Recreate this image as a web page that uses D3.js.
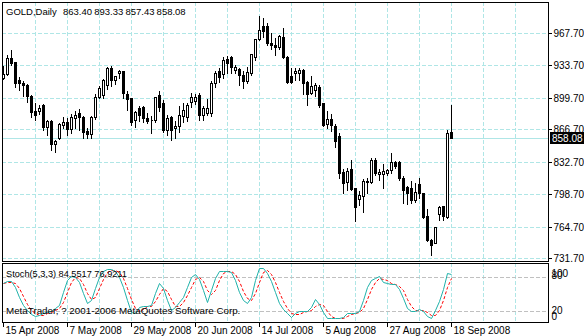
<!DOCTYPE html>
<html>
<head>
<meta charset="utf-8">
<script src="https://cdn.jsdelivr.net/npm/d3@7"></script>
<style>
  body { margin: 0; background: #fff; }
  svg { display: block; font-family: "Liberation Sans", Arial, sans-serif; }
</style>
</head>
<body>
<svg id="chart" width="584" height="336"></svg>
<script>
var symbol = "GOLD,Daily";
var firstDay = "2008-04-15";

// daily OHLC, one entry per bar (15 Apr 2008 .. 18 Sep 2008)
var opens = [921, 925, 942, 937, 918, 915, 913, 902, 886, 886, 892, 869, 875, 851, 858, 871, 874, 867, 879, 884,
  880, 865, 862, 880, 901, 903, 913, 931, 918, 926, 928, 904, 899.6, 876.5, 889, 890, 878.5, 876.5, 876.5, 902.7,
  894, 866, 879.6, 868, 870, 880.6, 880, 895, 896, 902.7, 881.7, 883.5, 884, 915.3, 927.8, 924.7, 940.4, 942.5, 928.9, 930,
  923.6, 917.4, 925.7, 942.5, 961.4, 975, 975, 957.2, 955, 953, 963.5, 942.5, 922.6, 925.7, 925.7, 928.9, 916.3, 904.8, 907.9, 911,
  894.3, 872.2, 877.5, 870, 859.7, 821.9, 811.4, 825, 805, 793.6, 796.5, 811.4, 811.4, 834.5, 819.8, 819.8, 821.2, 824, 832.7, 832.7,
  815.3, 805.9, 804.8, 792.5, 809.3, 800.2, 775.7, 750.6, 747.7, 777.8, 786.2, 775, 863.40];
var highs = [934, 946, 951, 938, 923, 918, 915, 904, 895, 893, 894, 878, 877, 857, 874, 881, 880, 884, 887, 889,
  882, 869, 882, 905, 913, 921, 933, 934, 924, 930, 929, 908, 900, 887, 892, 892, 885, 882, 902, 908,
  898, 883, 882, 876.5, 892, 895, 895, 906, 905, 905.8, 892, 899.2, 918, 928.9, 932, 943.6, 944.6, 945, 935, 932,
  929, 933, 946.8, 962.5, 986.6, 984.5, 979.2, 968.7, 963.5, 967, 974, 944.6, 932, 932, 932, 931, 918.4, 923.6, 916, 914,
  895, 887, 883.8, 873.3, 863.9, 826, 827.2, 835.5, 806.2, 803, 815.6, 817, 838, 837.6, 825.8, 831, 826, 843.2, 834.5, 834.5,
  818.8, 808.3, 813.5, 811.7, 817, 801.2, 783.8, 752.4, 765.3, 787.3, 787.3, 866.7, 893.33];
var lows = [919, 924, 934, 911, 908, 902, 895, 880, 876, 883, 866, 861, 845, 843, 857, 868, 861, 863, 868, 866,
  858, 858, 858, 878, 899, 900, 909, 912, 914, 921, 900, 887, 871, 869, 875, 874, 873, 863, 874, 886,
  864, 861, 855.5, 857.6, 864, 874, 875, 890, 893, 876.5, 876.5, 881.7, 881, 911, 916.3, 920.5, 925.7, 925.7, 925.7, 913,
  910, 915, 923.6, 939.4, 960, 963.5, 955, 951, 944.6, 951, 942, 915, 915, 918.4, 918.4, 903.7, 892, 903.7, 902, 890,
  870, 868, 865, 848, 815.6, 799.9, 803, 803, 770.5, 787.3, 780.3, 799.9, 810.4, 818.8, 813.5, 804.8, 819, 820.8, 826, 813.5,
  789, 788.3, 789, 790.7, 794.3, 773.3, 749.8, 734.8, 747, 771.6, 771.6, 773.3, 857.43];
var closes = [925, 942, 936, 915, 915, 913, 902, 885, 882, 889, 869, 875, 851, 854, 872, 874, 867, 880, 882, 880,
  864, 862, 880, 901, 910, 918, 931, 918, 922.5, 928, 905, 898.5, 874.4, 884.8, 882, 878.5, 875.5, 876, 900.6, 890,
  866, 878.5, 866, 870, 881.7, 887, 892, 900.6, 901, 881.7, 889, 888.7, 915.3, 925.7, 921.5, 939.4, 936.2, 932, 932, 923.6,
  917.4, 926.8, 945.7, 961.4, 970.8, 969.8, 957.2, 955, 953, 964.5, 942.5, 916.3, 916.3, 927.8, 928.9, 915.3, 903.7, 912.1, 913.2, 892.2,
  871.2, 877.5, 871.2, 854.4, 820.9, 810.4, 822.9, 804, 785.2, 797.8, 812.8, 812.5, 834.5, 820.5, 822.3, 823, 824, 832.7, 828.2, 815.3,
  803, 799.6, 792.5, 801.2, 800.2, 775, 750.6, 745.3, 764.5, 785.5, 775.7, 862.5, 858.08];

// Stoch(5,3,3): main and signal lines
var stochMain = [69.4, 72.4, 72.4, 62.5, 45, 30.4, 21.7, 14.7, 11.2, 12.9, 15.9, 18.8, 20.5, 24.6, 30.4, 53.7, 74.2, 81.7, 80, 71.2,
  50.9, 34.5, 39.2, 59.6, 80, 90.5, 92.9, 92.9, 90.5, 80, 62.5, 39.2, 18.8, 17, 26.4, 28.7, 28.7, 31, 52, 68.4,
  59.6, 39.2, 22.2, 26.4, 36.2, 45, 62.5, 78.9, 84.7, 75.4, 56.7, 36.2, 56.7, 77.1, 89.9, 90.5, 90.5, 87.6, 74.2, 53.7,
  39.2, 34.5, 45, 74.2, 94.6, 94.6, 87, 72.9, 53.7, 33.4, 22.9, 17, 10, 15.9, 19.9, 20.5, 20.5, 26.4, 40.4, 31.6,
  18.8, 7.2, 7.2, 7.2, 7.2, 10, 15.9, 17, 17, 19.9, 39.2, 62.5, 74.2, 77.1, 81.2, 71.2, 68.4, 67.2, 67.2, 57.9,
  42.2, 24.6, 20.5, 20.5, 24, 20.5, 11.2, 7.2, 21.7, 38, 59.2, 87, 84.5517];
var stochSignal = [68.4, 70, 71.4, 69.1, 60, 46, 32.4, 22.3, 15.9, 12.9, 13.3, 15.9, 18.4, 21.3, 25.2, 36.2, 52.8, 69.9, 78.6, 77.6,
  67.4, 52.2, 41.5, 44.4, 59.6, 76.7, 87.8, 92.1, 92.1, 87.8, 77.7, 60.6, 40.2, 25, 20.7, 24, 27.9, 29.5, 37.2, 50.5,
  60, 55.7, 40.3, 29.3, 28.3, 35.9, 47.9, 62.1, 75.4, 79.7, 72.3, 56.1, 49.9, 56.7, 74.6, 85.8, 90.3, 89.5, 84.1, 71.8,
  55.7, 42.5, 39.6, 51.2, 71.3, 87.8, 92.1, 84.8, 71.2, 53.3, 36.7, 24.4, 16.6, 14.3, 15.3, 18.8, 20.3, 22.5, 29.1, 32.8,
  30.3, 19.2, 11.1, 7.2, 7.2, 8.1, 11, 14.3, 16.6, 18, 25.4, 40.5, 58.6, 71.3, 77.5, 76.5, 73.6, 68.9, 67.6, 64.1,
  55.8, 41.6, 29.1, 21.9, 21.7, 21.7, 18.6, 13, 13.4, 22.3, 39.6, 61.4, 76.9211];

var priceTicks = [967.70, 933.70, 899.70, 866.70, 832.70, 798.70, 764.70, 731.70];
var stochTicks = [100, 80, 20, 0];
var stochLevels = [80, 20];
var dateLabels = ["15 Apr 2008", "7 May 2008", "29 May 2008", "20 Jun 2008", "14 Jul 2008", "5 Aug 2008", "27 Aug 2008", "18 Sep 2008"];
var copyright = "MetaTrader, ? 2001-2006 MetaQuotes Software Corp.";

var left = 2, right = 548;
var mainTop = 2, mainBottom = 261;
var subTop = 263, subBottom = 322;
var barsPerLabel = 16, barsPerGrid = 8;
var gridColor = "#afe6e6";

var svg = d3.select("#chart");
var n = closes.length;

var x = d3.scaleLinear().domain([0, 136]).range([3, 547]);
var y = d3.scaleLinear().domain([731.7, 967.7]).range([258, 33]);
var ys = d3.scaleLinear().domain([0, 100]).range([322.4, 265.2]);

function px(i) { return Math.round(x(i)) + 0.5; }
function py(v) { return Math.round(y(v)) + 0.5; }

// vertical grid in both windows
var gridIdx = d3.range(barsPerGrid, 136, barsPerGrid);
[[mainTop, mainBottom], [subTop, subBottom]].forEach(function(win) {
  svg.append("g").selectAll("line").data(gridIdx).enter().append("line")
    .attr("x1", px).attr("x2", px)
    .attr("y1", win[0]).attr("y2", win[1])
    .attr("stroke", gridColor).attr("stroke-dasharray", "4,2")
    .attr("shape-rendering", "crispEdges");
});

// horizontal price grid
svg.append("g").selectAll("line").data(priceTicks).enter().append("line")
  .attr("x1", left).attr("x2", right)
  .attr("y1", py).attr("y2", py)
  .attr("stroke", gridColor).attr("stroke-dasharray", "4,2")
  .attr("shape-rendering", "crispEdges");

// bid line
var last = n - 1;
svg.append("line")
  .attr("x1", left).attr("x2", right)
  .attr("y1", py(closes[last])).attr("y2", py(closes[last]))
  .attr("stroke", gridColor).attr("shape-rendering", "crispEdges");

// candles
var bars = svg.append("g").selectAll("g").data(d3.range(n)).enter().append("g")
  .attr("shape-rendering", "crispEdges");
bars.append("line")
  .attr("x1", px).attr("x2", px)
  .attr("y1", function(i) { return py(highs[i]); })
  .attr("y2", function(i) { return py(lows[i]); })
  .attr("stroke", "#000");
bars.append("path")
  .attr("d", function(i) {
    var t = Math.min(py(opens[i]), py(closes[i]));
    var b = Math.max(py(opens[i]), py(closes[i]));
    var cx = px(i);
    return "M" + (cx - 1) + "," + t + "H" + (cx + 1) + "V" + b + "H" + (cx - 1) + "Z";
  })
  .attr("fill", function(i) { return closes[i] >= opens[i] ? "#fff" : "#000"; })
  .attr("stroke", "#000");

// stochastic levels
svg.append("g").selectAll("line").data(stochLevels).enter().append("line")
  .attr("x1", left).attr("x2", right)
  .attr("y1", function(v) { return Math.round(ys(v)) + 0.5; })
  .attr("y2", function(v) { return Math.round(ys(v)) + 0.5; })
  .attr("stroke", "#c0c0c0").attr("stroke-dasharray", "4,2")
  .attr("shape-rendering", "crispEdges");

var line = d3.line()
  .x(function(d, i) { return px(i); })
  .y(function(d) { return Math.round(ys(d)) + 0.5; });
svg.append("path").datum(stochSignal)
  .attr("d", line).attr("fill", "none")
  .attr("stroke", "#ff0000").attr("stroke-dasharray", "3,2");
svg.append("path").datum(stochMain)
  .attr("d", line).attr("fill", "none")
  .attr("stroke", "#20b2aa");

// window frames
svg.append("rect").attr("x", left + 0.5).attr("y", mainTop + 0.5)
  .attr("width", right - left).attr("height", mainBottom - mainTop)
  .attr("fill", "none").attr("stroke", "#000").attr("shape-rendering", "crispEdges");
svg.append("rect").attr("x", left + 0.5).attr("y", subTop + 0.5)
  .attr("width", right - left).attr("height", subBottom - subTop)
  .attr("fill", "none").attr("stroke", "#000").attr("shape-rendering", "crispEdges");

// price axis
var priceAxis = d3.axisRight(y).tickValues(priceTicks).tickSize(3).tickPadding(2)
  .tickFormat(d3.format(".2f"));
var pa = svg.append("g").attr("transform", "translate(" + (right + 0.5) + ",0)").call(priceAxis);
pa.select(".domain").remove();
pa.selectAll(".tick").attr("transform", function(v) { return "translate(0," + py(v) + ")"; });
pa.selectAll("text").attr("font-size", 10).attr("font-family", null).attr("fill", "#000");
pa.selectAll("line").attr("stroke", "#000").attr("shape-rendering", "crispEdges");

// stoch axis
var stochAxis = d3.axisRight(ys).tickValues(stochTicks).tickSize(0).tickPadding(3);
var sa = svg.append("g").attr("transform", "translate(" + (right + 0.5) + ",0)").call(stochAxis);
sa.select(".domain").remove();
var stochDy = {100: 8, 80: -1.5, 20: -1, 0: -6};
sa.selectAll("text").attr("font-size", 10).attr("font-family", null).attr("fill", "#000")
  .attr("dy", function(v) { return (stochDy[v] + 3.5) + "px"; });

// last price marker
var lastY = Math.round(y(closes[last]));
svg.append("rect").attr("x", 550).attr("y", lastY - 6).attr("width", 34).attr("height", 12).attr("fill", "#000");
svg.append("text").attr("x", 552).attr("y", lastY + 4).attr("font-size", 10).attr("fill", "#fff")
  .text(d3.format(".2f")(closes[last]));

// time axis
var timeAxis = d3.axisBottom(x)
  .tickValues(d3.range(0, n, barsPerLabel))
  .tickSize(4).tickPadding(0)
  .tickFormat(function(i) { return dateLabels[i / barsPerLabel]; });
var ta = svg.append("g").attr("transform", "translate(0," + (subBottom + 0.5) + ")").call(timeAxis);
ta.select(".domain").remove();
ta.selectAll(".tick").attr("transform", function(i) { return "translate(" + px(i) + ",0)"; });
ta.selectAll("line").attr("stroke", "#000").attr("shape-rendering", "crispEdges");
ta.selectAll("text").attr("font-size", 10).attr("font-family", null).attr("fill", "#000")
  .attr("text-anchor", "start").attr("x", 2).attr("y", 11.5).attr("dy", null);

// captions
var fmt2 = d3.format(".2f"), fmt4 = d3.format(".4f");
var title = svg.append("text").attr("y", 15).attr("font-size", 9.5);
title.append("tspan").attr("x", 6).text(symbol);
[opens[last], highs[last], lows[last], closes[last]].forEach(function(v, k) {
  title.append("tspan").attr("x", 63 + k * 31.2).text(fmt2(v));
});
svg.append("text").attr("x", 6).attr("y", 276.5).attr("font-size", 9.2)
  .text("Stoch(5,3,3) " + fmt4(stochMain[last]) + " " + fmt4(stochSignal[last]));
svg.append("text").attr("x", 6).attr("y", 314).attr("font-size", 9.8)
  .text(copyright);
</script>
</body>
</html>
